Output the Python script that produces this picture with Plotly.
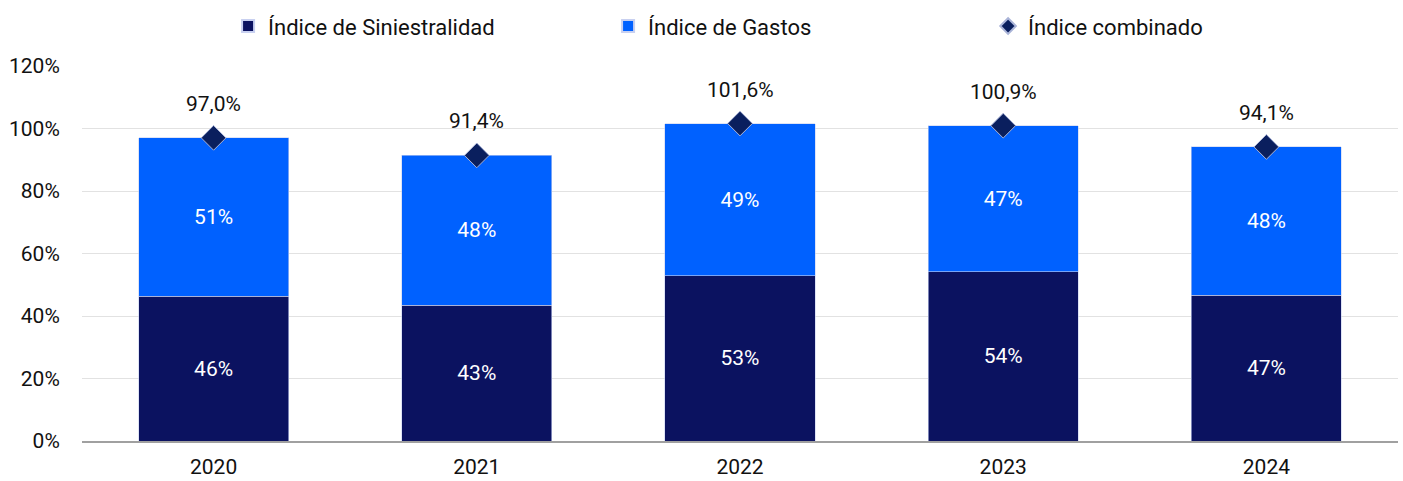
import plotly.graph_objects as go

years = [2020, 2021, 2022, 2023, 2024]
siniestralidad = [46.3, 43.4, 52.9, 54.2, 46.6]
gastos = [50.7, 48.0, 48.7, 46.7, 47.5]
combinado = [97.0, 91.4, 101.6, 100.9, 94.1]
y_ticks = [0, 20, 40, 60, 80, 100, 120]

FONT = "Roboto"
FS = 21
NAVY = "#0b1260"
BLUE = "#0061ff"

fig = go.Figure()
fig.add_trace(go.Bar(
    x=years, y=siniestralidad, name="Índice de Siniestralidad",
    marker=dict(color=NAVY, line=dict(color="#c8d0f0", width=0.6)),
    text=[f"{v:.0f}%" for v in siniestralidad], textposition="inside",
    insidetextanchor="middle", textangle=0,
    textfont=dict(color="white", size=FS, family=FONT),
))
fig.add_trace(go.Bar(
    x=years, y=gastos, name="Índice de Gastos",
    marker=dict(color=BLUE, line=dict(color="#c8d0f0", width=0.6)),
    text=[f"{v:.0f}%" for v in gastos], textposition="inside",
    insidetextanchor="middle", textangle=0,
    textfont=dict(color="white", size=FS, family=FONT),
))
fig.add_trace(go.Scatter(
    x=years, y=combinado, name="Índice combinado", mode="markers",
    marker=dict(symbol="diamond", size=19, color="#0a1f5e",
                line=dict(color="#aab4d8", width=1)),
))
for xv, yv in zip(years, combinado):
    fig.add_annotation(x=xv, y=yv, xref="x", yref="y",
                       text=f"{yv:.1f}%".replace(".", ","),
                       showarrow=False, yshift=34,
                       font=dict(size=FS, color="#111111", family=FONT))

fig.update_layout(
    width=1403, height=481,
    margin=dict(l=82, r=5, t=54, b=40),
    paper_bgcolor="white", plot_bgcolor="white",
    barmode="stack", bargap=0.43,
    font=dict(family=FONT, size=FS, color="#111111"),
    showlegend=True,
    legend=dict(orientation="h", x=0.111, xanchor="left", y=1.05,
                yanchor="bottom", traceorder="normal", entrywidth=335,
                itemsizing="constant",
                font=dict(size=22, family=FONT, color="#111111")),
)
fig.update_yaxes(range=[0, 120], tickmode="array", tickvals=y_ticks,
                 ticktext=[f"{v}%" for v in y_ticks], automargin=False,
                 showgrid=True, gridcolor="#e2e2e2", gridwidth=1, zeroline=False,
                 ticks="outside", ticklen=17, tickcolor="white",
                 tickfont=dict(size=FS, family=FONT, color="#111111"))
fig.update_xaxes(type="linear", range=[years[0] - 0.5, years[-1] + 0.5],
                 tickmode="array", tickvals=years, ticktext=[str(y) for y in years],
                 automargin=False,
                 ticks="outside", ticklen=6, tickcolor="white",
                 showline=True, linecolor="#a0a0a0", linewidth=1.5,
                 showgrid=False, tickfont=dict(size=FS, family=FONT, color="#111111"))

fig.write_html("out.html")
